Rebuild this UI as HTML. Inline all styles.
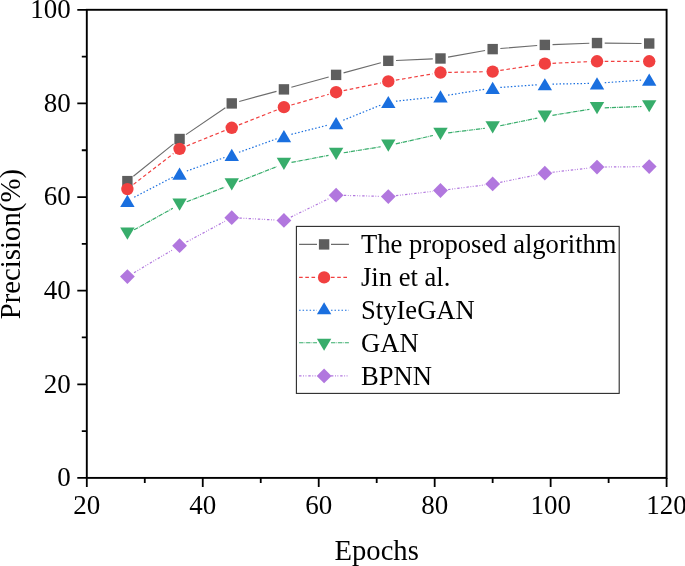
<!DOCTYPE html>
<html><head><meta charset="utf-8"><style>
html,body{margin:0;padding:0;background:#fff;width:685px;height:566px;overflow:hidden}
svg{display:block;will-change:transform}
text{font-family:"Liberation Serif",serif;fill:#000}
</style></head><body>
<svg width="685" height="566" viewBox="0 0 685 566">
<rect x="86.80" y="9.80" width="579.80" height="468.10" fill="none" stroke="#000" stroke-width="1.9"/>
<path d="M77.30,477.90H86.80M77.30,384.28H86.80M77.30,290.66H86.80M77.30,197.04H86.80M77.30,103.42H86.80M77.30,9.80H86.80M81.80,431.09H86.80M81.80,337.47H86.80M81.80,243.85H86.80M81.80,150.23H86.80M81.80,56.61H86.80M86.80,477.90V487.10M202.76,477.90V487.10M318.72,477.90V487.10M434.68,477.90V487.10M550.64,477.90V487.10M666.60,477.90V487.10M144.78,477.90V482.90M260.74,477.90V482.90M376.70,477.90V482.90M492.66,477.90V482.90M608.62,477.90V482.90" stroke="#000" stroke-width="1.8" fill="none"/>
<path d="M133.38,176.29L173.58,143.83M185.93,134.66L225.39,107.76M239.19,101.42L276.50,91.38M291.35,87.31L328.70,76.93M343.55,72.86L380.86,62.82M395.99,60.48L432.79,58.83M448.06,57.12L485.08,50.48M500.34,48.50L537.17,45.53M552.54,44.63L589.33,43.31M604.72,43.10L641.51,43.43" stroke="#6c6c6c" stroke-width="1.1" fill="none"/>
<path d="M133.48,184.38L173.47,153.53M186.71,145.94L224.61,130.64M238.91,124.93L276.77,109.99M291.33,105.04L328.71,94.31M343.66,90.63L380.75,82.98M395.89,80.13L432.89,73.82M448.18,72.39L484.96,71.73M500.27,70.43L537.23,64.79M552.53,63.29L589.33,61.64M604.72,61.29L641.51,61.29" stroke="#F14040" stroke-width="1.2" fill="none" stroke-dasharray="3.6,2.6"/>
<path d="M134.22,197.23L172.74,177.19M186.82,171.03L224.50,157.51M239.00,152.31L276.68,138.79M291.40,134.31L328.65,124.96M343.25,120.20L381.16,104.90M395.95,101.19L432.82,97.22M448.08,95.17L485.06,89.20M500.34,87.42L537.16,84.78M552.54,84.09L589.33,83.43M604.70,82.74L641.53,80.10" stroke="#1A6FDF" stroke-width="1.2" fill="none" stroke-dasharray="1.5,2"/>
<path d="M134.12,229.81L172.84,208.27M186.75,201.76L224.57,187.17M238.91,181.57L276.77,166.63M291.50,162.38L328.55,155.40M343.72,152.75L380.69,146.78M395.81,143.86L432.96,135.53M448.12,132.89L485.02,128.25M500.20,125.74L537.30,118.08M552.44,115.30L589.42,109.33M604.72,107.82L641.51,106.50" stroke="#37AD6B" stroke-width="1.2" fill="none" stroke-dasharray="4.4,1,0.8,0.8"/>
<path d="M134.01,272.69L172.94,249.65M186.35,242.07L224.97,221.29M239.44,218.05L276.24,220.03M290.86,217.09L329.18,198.52M343.81,195.37L380.60,196.36M395.94,195.68L432.83,191.38M448.12,189.53L485.02,184.89M500.20,182.38L537.30,174.72M552.49,172.27L589.38,167.97M604.72,167.01L641.51,166.68" stroke="#B177DE" stroke-width="1.2" fill="none" stroke-dasharray="2.4,1.6,0.9,1.5,0.9,1.9"/>
<rect x="122.19" y="175.92" width="10.4" height="10.4" fill="#5e5e5e"/>
<rect x="174.37" y="133.80" width="10.4" height="10.4" fill="#5e5e5e"/>
<rect x="226.55" y="98.22" width="10.4" height="10.4" fill="#5e5e5e"/>
<rect x="278.73" y="84.18" width="10.4" height="10.4" fill="#5e5e5e"/>
<rect x="330.91" y="69.67" width="10.4" height="10.4" fill="#5e5e5e"/>
<rect x="383.10" y="55.62" width="10.4" height="10.4" fill="#5e5e5e"/>
<rect x="435.28" y="53.28" width="10.4" height="10.4" fill="#5e5e5e"/>
<rect x="487.46" y="43.92" width="10.4" height="10.4" fill="#5e5e5e"/>
<rect x="539.64" y="39.71" width="10.4" height="10.4" fill="#5e5e5e"/>
<rect x="591.82" y="37.84" width="10.4" height="10.4" fill="#5e5e5e"/>
<rect x="644.01" y="38.30" width="10.4" height="10.4" fill="#5e5e5e"/>
<circle cx="127.39" cy="189.08" r="6.2" fill="#F14040"/>
<circle cx="179.57" cy="148.83" r="6.2" fill="#F14040"/>
<circle cx="231.75" cy="127.76" r="6.2" fill="#F14040"/>
<circle cx="283.93" cy="107.16" r="6.2" fill="#F14040"/>
<circle cx="336.11" cy="92.19" r="6.2" fill="#F14040"/>
<circle cx="388.30" cy="81.42" r="6.2" fill="#F14040"/>
<circle cx="440.48" cy="72.53" r="6.2" fill="#F14040"/>
<circle cx="492.66" cy="71.59" r="6.2" fill="#F14040"/>
<circle cx="544.84" cy="63.63" r="6.2" fill="#F14040"/>
<circle cx="597.02" cy="61.29" r="6.2" fill="#F14040"/>
<circle cx="649.21" cy="61.29" r="6.2" fill="#F14040"/>
<polygon points="127.39,194.68 134.59,206.88 120.19,206.88" fill="#1A6FDF"/>
<polygon points="179.57,167.53 186.77,179.73 172.37,179.73" fill="#1A6FDF"/>
<polygon points="231.75,148.81 238.95,161.01 224.55,161.01" fill="#1A6FDF"/>
<polygon points="283.93,130.09 291.13,142.29 276.73,142.29" fill="#1A6FDF"/>
<polygon points="336.11,116.98 343.31,129.18 328.91,129.18" fill="#1A6FDF"/>
<polygon points="388.30,95.92 395.50,108.12 381.10,108.12" fill="#1A6FDF"/>
<polygon points="440.48,90.30 447.68,102.50 433.28,102.50" fill="#1A6FDF"/>
<polygon points="492.66,81.87 499.86,94.07 485.46,94.07" fill="#1A6FDF"/>
<polygon points="544.84,78.13 552.04,90.33 537.64,90.33" fill="#1A6FDF"/>
<polygon points="597.02,77.19 604.22,89.39 589.82,89.39" fill="#1A6FDF"/>
<polygon points="649.21,73.45 656.41,85.65 642.01,85.65" fill="#1A6FDF"/>
<polygon points="120.19,227.45 134.59,227.45 127.39,239.65" fill="#37AD6B"/>
<polygon points="172.37,198.43 186.77,198.43 179.57,210.63" fill="#37AD6B"/>
<polygon points="224.55,178.30 238.95,178.30 231.75,190.50" fill="#37AD6B"/>
<polygon points="276.73,157.70 291.13,157.70 283.93,169.90" fill="#37AD6B"/>
<polygon points="328.91,147.87 343.31,147.87 336.11,160.07" fill="#37AD6B"/>
<polygon points="381.10,139.45 395.50,139.45 388.30,151.65" fill="#37AD6B"/>
<polygon points="433.28,127.75 447.68,127.75 440.48,139.95" fill="#37AD6B"/>
<polygon points="485.46,121.19 499.86,121.19 492.66,133.39" fill="#37AD6B"/>
<polygon points="537.64,110.43 552.04,110.43 544.84,122.63" fill="#37AD6B"/>
<polygon points="589.82,102.00 604.22,102.00 597.02,114.20" fill="#37AD6B"/>
<polygon points="642.01,100.13 656.41,100.13 649.21,112.33" fill="#37AD6B"/>
<polygon points="127.39,269.22 134.79,276.62 127.39,284.02 119.99,276.62" fill="#B177DE"/>
<polygon points="179.57,238.32 186.97,245.72 179.57,253.12 172.17,245.72" fill="#B177DE"/>
<polygon points="231.75,210.24 239.15,217.64 231.75,225.04 224.35,217.64" fill="#B177DE"/>
<polygon points="283.93,213.04 291.33,220.44 283.93,227.84 276.53,220.44" fill="#B177DE"/>
<polygon points="336.11,187.77 343.51,195.17 336.11,202.57 328.71,195.17" fill="#B177DE"/>
<polygon points="388.30,189.17 395.70,196.57 388.30,203.97 380.90,196.57" fill="#B177DE"/>
<polygon points="440.48,183.09 447.88,190.49 440.48,197.89 433.08,190.49" fill="#B177DE"/>
<polygon points="492.66,176.53 500.06,183.93 492.66,191.33 485.26,183.93" fill="#B177DE"/>
<polygon points="544.84,165.77 552.24,173.17 544.84,180.57 537.44,173.17" fill="#B177DE"/>
<polygon points="597.02,159.68 604.42,167.08 597.02,174.48 589.62,167.08" fill="#B177DE"/>
<polygon points="649.21,159.21 656.61,166.61 649.21,174.01 641.81,166.61" fill="#B177DE"/>
<rect x="296.4" y="226.4" width="322.8" height="167" fill="#fff" stroke="#2a2a2a" stroke-width="1.1"/>
<path d="M299.1,244.4H317M331,244.4H348.9" stroke="#6c6c6c" stroke-width="1.1"/>
<rect x="318.90" y="239.20" width="10.4" height="10.4" fill="#5e5e5e"/>
<text x="361" y="253.20" font-size="26.6">The proposed algorithm</text>
<path d="M299.1,277.4H317M331,277.4H348.9" stroke="#F14040" stroke-width="1.1" stroke-dasharray="3.6,2.6"/>
<circle cx="324.10" cy="277.40" r="6.2" fill="#F14040"/>
<text x="361" y="286.20" font-size="26.6">Jin et al.</text>
<path d="M299.1,310.3H317M331,310.3H348.9" stroke="#1A6FDF" stroke-width="1.1" stroke-dasharray="1.5,2"/>
<polygon points="324.10,302.15 331.30,314.35 316.90,314.35" fill="#1A6FDF"/>
<text x="361" y="319.10" font-size="26.6">StyIeGAN</text>
<path d="M299.1,342.7H317M331,342.7H348.9" stroke="#37AD6B" stroke-width="1.1" stroke-dasharray="4.4,1,0.8,0.8"/>
<polygon points="316.90,338.65 331.30,338.65 324.10,350.85" fill="#37AD6B"/>
<text x="361" y="351.50" font-size="26.6">GAN</text>
<path d="M299.1,375.9H317M331,375.9H348.9" stroke="#B177DE" stroke-width="1.1" stroke-dasharray="2.4,1.6,0.9,1.5,0.9,1.9"/>
<polygon points="324.10,368.50 331.50,375.90 324.10,383.30 316.70,375.90" fill="#B177DE"/>
<text x="361" y="384.70" font-size="26.6">BPNN</text>
<text x="70.8" y="486.30" text-anchor="end" font-size="27">0</text>
<text x="70.8" y="392.68" text-anchor="end" font-size="27">20</text>
<text x="70.8" y="299.06" text-anchor="end" font-size="27">40</text>
<text x="70.8" y="205.44" text-anchor="end" font-size="27">60</text>
<text x="70.8" y="111.82" text-anchor="end" font-size="27">80</text>
<text x="70.8" y="18.20" text-anchor="end" font-size="27">100</text>
<text x="86.80" y="513.9" text-anchor="middle" font-size="27">20</text>
<text x="202.76" y="513.9" text-anchor="middle" font-size="27">40</text>
<text x="318.72" y="513.9" text-anchor="middle" font-size="27">60</text>
<text x="434.68" y="513.9" text-anchor="middle" font-size="27">80</text>
<text x="550.64" y="513.9" text-anchor="middle" font-size="27">100</text>
<text x="666.60" y="513.9" text-anchor="middle" font-size="27">120</text>
<text x="376.7" y="559.7" text-anchor="middle" font-size="28.6">Epochs</text>
<text transform="translate(19.9,244.2) rotate(-90)" x="0" y="0" text-anchor="middle" font-size="28.8">Precision(%)</text>
</svg>
</body></html>
